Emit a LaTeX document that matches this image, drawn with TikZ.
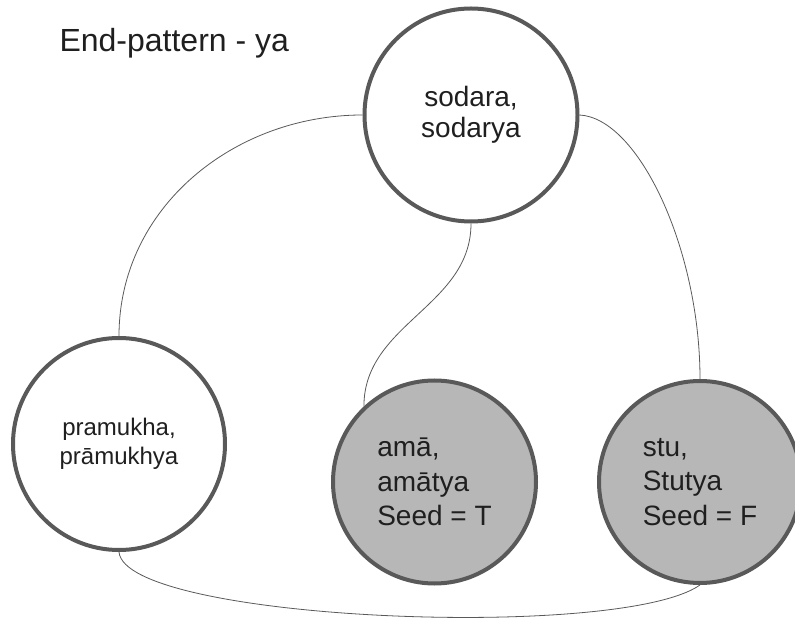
\documentclass[tikz,border=0pt]{standalone}
\usepackage{fontspec}
\setmainfont{Liberation Sans}
\definecolor{rim}{HTML}{595959}
\definecolor{seedfill}{HTML}{B7B7B7}

\begin{document}
\begin{tikzpicture}[x=1pt,y=1pt,
  word/.style={circle,draw=rim,line width=4pt,inner sep=0pt,align=center,text=black!88,font=\fontsize{28}{31}\selectfont},
  seed/.style={word,fill=seedfill,align=left,font=\fontsize{28}{34.5}\selectfont},
  link/.style={draw=black!65,line width=0.8pt}]
\useasboundingbox (0,0) rectangle (795,621);
\node[anchor=base west,text=black!88,font=\fontsize{32}{36}\selectfont] (title) at (56,569) {End-pattern - ya};
\node[word,minimum size=213pt] (sodara) at (471,506) {sodara,\\sodarya};
\node[word,minimum size=212pt,font=\fontsize{24}{29}\selectfont] (pramukha) at (119,177) {pramukha,\\prāmukhya};
\node[seed,minimum size=203pt] (ama) at (434.5,139) {amā,\\amātya\\Seed = T};
\node[seed,minimum size=202pt] (stu) at (700,139) {stu,\\Stutya\\Seed = F};
\draw[link] (sodara.180) to[out=180,in=90] (pramukha.north);
\draw[link] (sodara.south) to[out=-90,in=90] (ama.133);
\draw[link] (sodara.0) .. controls +(59,-3) and +(0,130) .. (stu.north);
\draw[link] (pramukha.south) .. controls +(6,-69) and +(-80,-56) .. (stu.south);
\end{tikzpicture}
\end{document}
